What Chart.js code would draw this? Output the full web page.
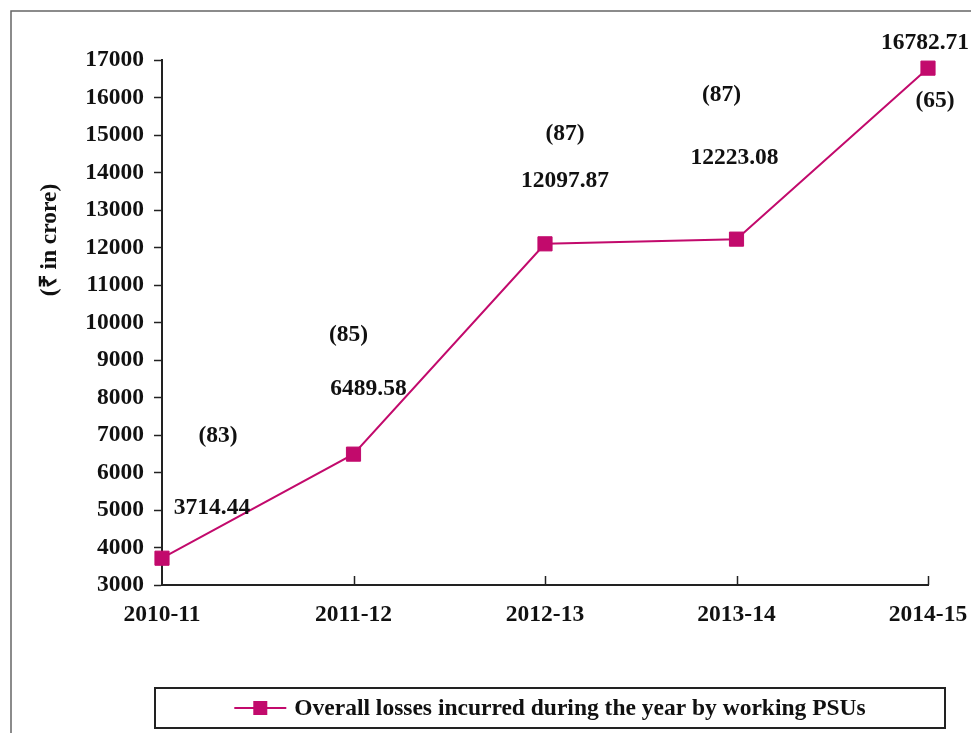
<!DOCTYPE html>
<html>
<head>
<meta charset="utf-8">
<script src="https://cdn.jsdelivr.net/npm/chart.js@4"></script>
<style>
    html, body { margin: 0; padding: 0; background: #fff; }
    #wrap { width: 971px; height: 733px; }
</style>
</head>
<body>
<div id="wrap"><canvas id="myChart"></canvas></div>
<script>
const years = ["2010-11", "2011-12", "2012-13", "2013-14", "2014-15"];
const losses = [3714.44, 6489.58, 12097.87, 12223.08, 16782.71];
const psuCounts = [83, 85, 87, 87, 65];
const seriesName = "Overall losses incurred during the year by working PSUs";

const lineColor = "#c20a6c";
const serif = "'Liberation Serif', 'Times New Roman', serif";
const fontSize = 23.5;

// where each value label / count label sits, relative to its point
const valueOffsets = [[50, -50], [15, -65], [20, -63], [-2, -81], [-3, -25]];
const countOffsets = [[56, -122], [-5, -119], [20, -110], [-15, -144], [7, 33]];

const extras = {
    id: "extras",
    afterDraw(chart) {
        const ctx = chart.ctx;
        const meta = chart.getDatasetMeta(0);
        const area = chart.chartArea;
        const xs = chart.scales.x;
        ctx.save();

        // outer frame
        ctx.strokeStyle = "#666";
        ctx.lineWidth = 1.5;
        ctx.strokeRect(11, 11, 1000, 1000);

        // x ticks pointing into the plot
        ctx.strokeStyle = "#222";
        ctx.lineWidth = 1.5;
        xs.ticks.forEach((t, i) => {
            if (i === 0) return;
            const px = Math.round(xs.getPixelForTick(i)) + 0.5;
            ctx.beginPath();
            ctx.moveTo(px, area.bottom);
            ctx.lineTo(px, area.bottom - 9);
            ctx.stroke();
        });

        // labels above the points
        ctx.fillStyle = "#111";
        ctx.textAlign = "center";
        ctx.textBaseline = "middle";
        ctx.font = "bold " + fontSize + "px " + serif;
        meta.data.forEach((pt, i) => {
            ctx.fillText(losses[i].toFixed(2), pt.x + valueOffsets[i][0], pt.y + valueOffsets[i][1]);
            ctx.fillText("(" + psuCounts[i] + ")", pt.x + countOffsets[i][0], pt.y + countOffsets[i][1]);
        });

        // y axis title
        ctx.save();
        ctx.translate(50, 240);
        ctx.rotate(-Math.PI / 2);
        ctx.fillText("(\u20B9 in crore)", 0, 0);
        ctx.restore();

        // legend box
        ctx.strokeStyle = "#222";
        ctx.lineWidth = 2;
        ctx.strokeRect(155, 688, 790, 40);
        ctx.textAlign = "left";
        const textW = ctx.measureText(seriesName).width;
        const total = 52 + 8 + textW;
        const startX = (155 + 945) / 2 - total / 2;
        const cy = 708;
        ctx.strokeStyle = lineColor;
        ctx.lineWidth = 2;
        ctx.beginPath();
        ctx.moveTo(startX, cy);
        ctx.lineTo(startX + 52, cy);
        ctx.stroke();
        ctx.fillStyle = lineColor;
        ctx.fillRect(startX + 19, cy - 7, 14, 14);
        ctx.fillStyle = "#111";
        ctx.fillText(seriesName, startX + 60, cy + 1);

        ctx.restore();
    }
};

const ctx = document.querySelector("#myChart");

new Chart(ctx, {
    type: "line",
    data: {
        labels: years,
        datasets: [
            {
                label: seriesName,
                data: losses,
                borderColor: lineColor,
                backgroundColor: lineColor,
                borderWidth: 2,
                pointStyle: "rect",
                pointRadius: 10,
                pointBorderWidth: 1,
                tension: 0,
            },
        ],
    },
    options: {
        responsive: true,
        maintainAspectRatio: false,
        animation: false,
        layout: {
            padding: { left: 20, right: 43, top: 60, bottom: 108 },
        },
        plugins: {
            legend: { display: false },
            tooltip: { enabled: false },
        },
        scales: {
            x: {
                offset: false,
                grid: { display: false, drawTicks: false },
                border: { color: "#222", width: 2 },
                ticks: {
                    color: "#111",
                    padding: 16,
                    maxRotation: 0,
                    font: { family: serif, size: fontSize, weight: "bold" },
                },
                afterFit(scale) {
                    scale.height = 40;
                    scale.paddingLeft = 0;
                    scale.paddingRight = 0;
                },
            },
            y: {
                min: 3000,
                max: 17000,
                grid: {
                    drawOnChartArea: false,
                    drawTicks: true,
                    tickLength: 8,
                    color: "#222",
                    tickWidth: 1.5,
                },
                border: { color: "#222", width: 2 },
                ticks: {
                    stepSize: 1000,
                    color: "#111",
                    padding: 10,
                    font: { family: serif, size: fontSize, weight: "bold" },
                    callback: (v) => String(v),
                },
                afterFit(scale) {
                    scale.width = 142;
                    scale.paddingTop = 0;
                    scale.paddingBottom = 0;
                },
            },
        },
    },
    plugins: [extras],
});
</script>
</body>
</html>
